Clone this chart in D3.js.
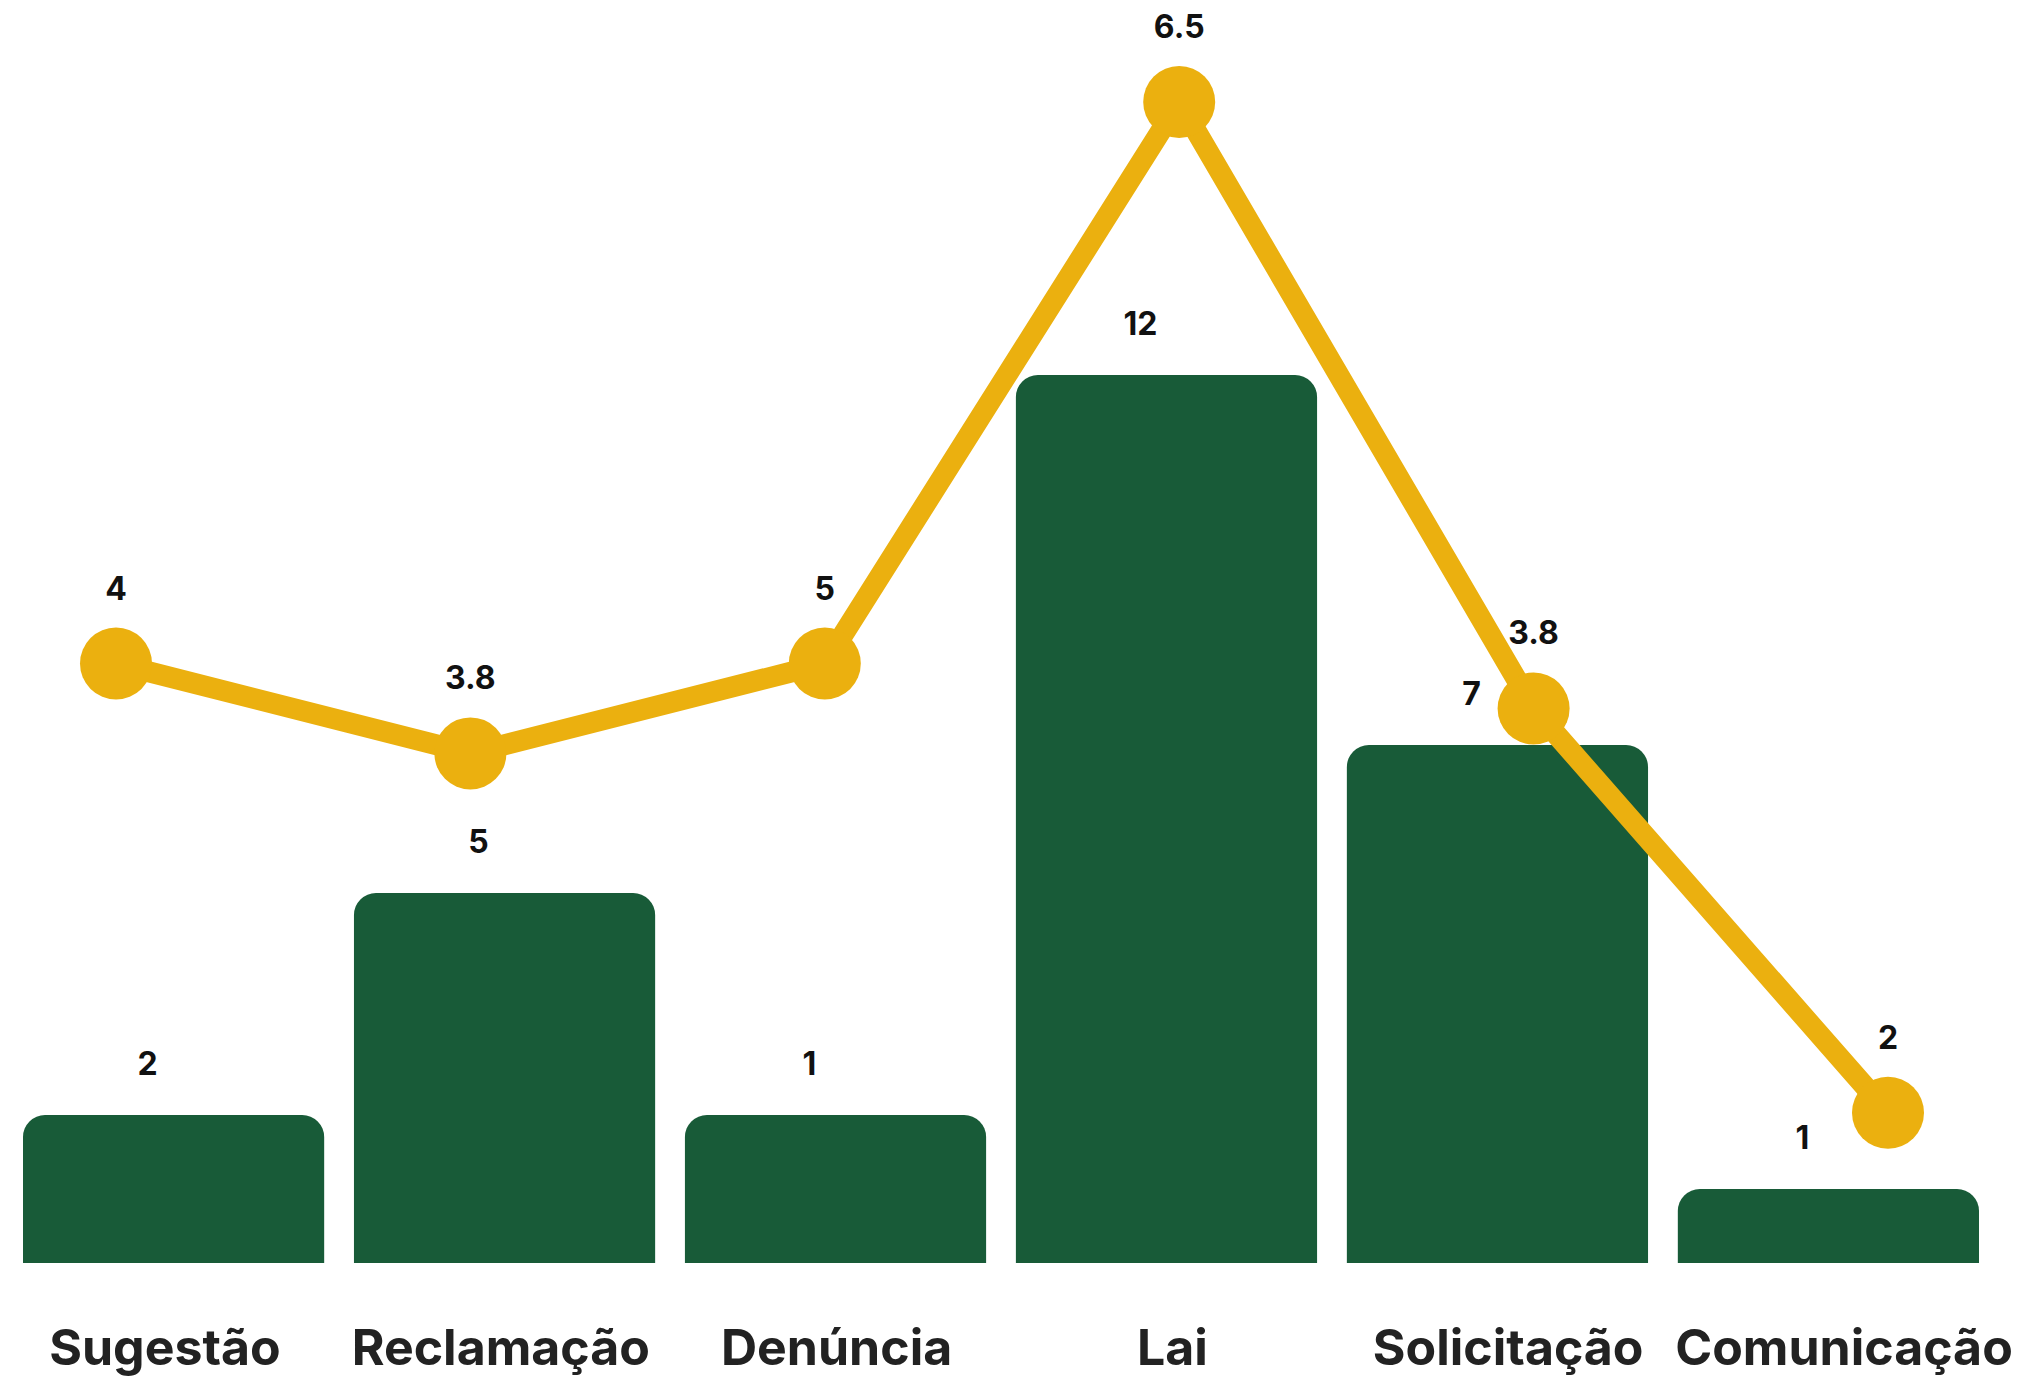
<!DOCTYPE html>
<html>
<head>
<meta charset="utf-8">
<script src="https://cdn.jsdelivr.net/npm/d3@7"></script>
<style>
  body { margin: 0; background: #fff; }
  text { font-family: Inter, "Noto Sans", sans-serif; font-weight: 700; }
</style>
</head>
<body>
<svg id="chart" width="2024" height="1377"></svg>
<script>
// data
var categories = ["Sugestão", "Reclamação", "Denúncia", "Lai", "Solicitação", "Comunicação"];
var barValues  = [2, 5, 2, 12, 7, 1];             // bar heights
var barLabels  = ["2", "5", "1", "12", "7", "1"];  // printed above bars
var lineValues = [4, 3.6, 4, 6.5, 3.8, 2];         // point heights
var lineLabels = ["4", "3.8", "5", "6.5", "3.8", "2"];

var svg = d3.select("#chart");

var green = "#185b38",
    gold = "#ebb00f";

// bars
var x = d3.scaleBand().domain(categories).range([23, 1979]).paddingInner(0.09);
var y = d3.scaleLinear().domain([0, 12]).range([1263, 375]);

// line has its own scale
var xp = d3.scalePoint().domain(categories).range([116, 1888]);
var yp = d3.scaleLinear().domain([0, 6.5]).range([1562, 102]);

// category names sit a bit off the bar centres
var xl = d3.scalePoint().domain(categories).range([165, 1844]);

function topRounded(x0, y0, w, h, r) {
  r = Math.min(r, h, w / 2);
  return "M" + x0 + "," + (y0 + h) +
    "V" + (y0 + r) +
    "A" + r + "," + r + " 0 0 1 " + (x0 + r) + "," + y0 +
    "H" + (x0 + w - r) +
    "A" + r + "," + r + " 0 0 1 " + (x0 + w) + "," + (y0 + r) +
    "V" + (y0 + h) + "Z";
}

svg.selectAll(".bar")
  .data(categories)
  .enter().append("path")
    .attr("class", "bar")
    .attr("fill", green)
    .attr("d", function(d, i) {
      return topRounded(x(d), y(barValues[i]), x.bandwidth(), y(0) - y(barValues[i]), 22);
    });

svg.selectAll(".bar-label")
  .data(categories)
  .enter().append("text")
    .attr("class", "bar-label")
    .attr("x", function(d) { return x(d) + x.bandwidth() / 2 - 26; })
    .attr("y", function(d, i) { return y(barValues[i]) - 40; })
    .attr("text-anchor", "middle")
    .attr("font-size", 32)
    .attr("fill", "#111")
    .text(function(d, i) { return barLabels[i]; });

// line + points
var line = d3.line()
  .x(function(d) { return xp(d); })
  .y(function(d, i) { return yp(lineValues[i]); });

svg.append("path")
  .datum(categories)
  .attr("fill", "none")
  .attr("stroke", gold)
  .attr("stroke-width", 21)
  .attr("d", line);

svg.selectAll(".dot")
  .data(categories)
  .enter().append("circle")
    .attr("class", "dot")
    .attr("cx", function(d) { return xp(d); })
    .attr("cy", function(d, i) { return yp(lineValues[i]); })
    .attr("r", 36)
    .attr("fill", gold);

svg.selectAll(".line-label")
  .data(categories)
  .enter().append("text")
    .attr("class", "line-label")
    .attr("x", function(d) { return xp(d); })
    .attr("y", function(d, i) { return yp(lineValues[i]) - 64; })
    .attr("text-anchor", "middle")
    .attr("font-size", 32)
    .attr("fill", "#111")
    .text(function(d, i) { return lineLabels[i]; });

// category labels
svg.append("g")
  .attr("transform", "translate(0,1365)")
  .selectAll("text")
  .data(categories)
  .enter().append("text")
    .attr("x", function(d) { return xl(d); })
    .attr("text-anchor", "middle")
    .attr("font-size", 50)
    .attr("fill", "#222")
    .text(function(d) { return d; });
</script>
</body>
</html>
